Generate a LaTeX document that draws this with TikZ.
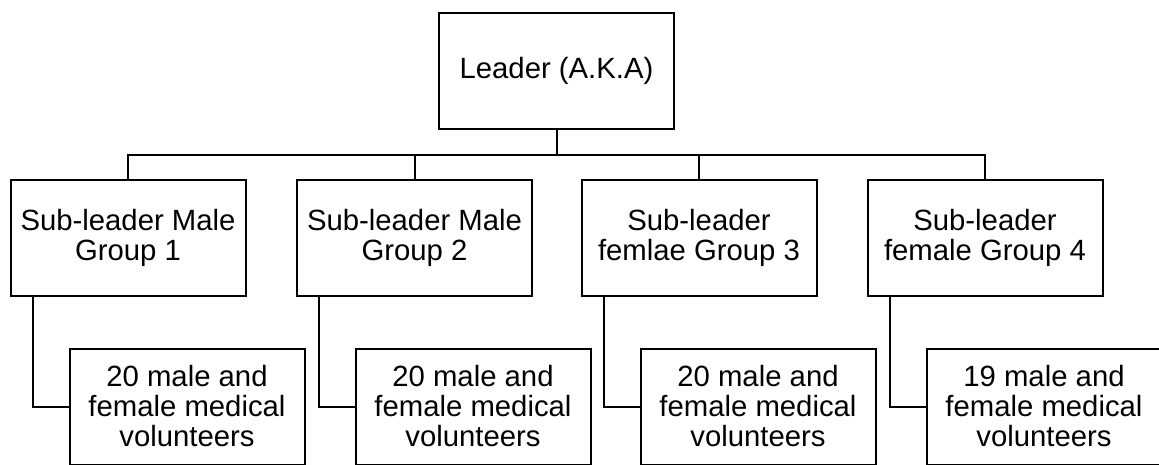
\documentclass[tikz,border=0pt]{standalone}
\usepackage{fontspec}
\setmainfont{Liberation Sans}
\begin{document}
\begin{tikzpicture}[x=1pt,y=-1pt,
  box/.style={draw,line width=2pt,minimum width=235pt,minimum height=116pt,
    inner sep=0pt,align=center,font=\fontsize{29.3}{30}\selectfont},
  link/.style={line width=2pt}]
\useasboundingbox (0,0) rectangle (1159,464);
% top of the hierarchy
\node[box] (L) at (556.5,71) {Leader (A.K.A)};
% sub-leaders
\node[box] (s1) at (128,238) {Sub-leader Male\\Group 1};
\node[box] (s2) at (414.5,238) {Sub-leader Male\\Group 2};
\node[box] (s3) at (699,238) {Sub-leader\\femlae Group 3};
\node[box] (s4) at (985,238) {Sub-leader\\female Group 4};
% volunteer groups
\node[box] (v1) at (187,406.5) {20 male and\\female medical\\volunteers};
\node[box] (v2) at (473,406.5) {20 male and\\female medical\\volunteers};
\node[box] (v3) at (758,406.5) {20 male and\\female medical\\volunteers};
\node[box] (v4) at (1044,406.5) {19 male and\\female medical\\volunteers};
% bus line below the leader
\coordinate (bus) at (556.5,155);
\draw[link] (L.south) -- (bus);
\draw[link] (s1.north) -- (s1.north |- bus) -- (s4.north |- bus) -- (s4.north);
\draw[link] (s2.north) -- (s2.north |- bus);
\draw[link] (s3.north) -- (s3.north |- bus);
% elbow links to the volunteer groups
\foreach \i in {1,2,3,4}{
  \draw[link] ([xshift=23pt]s\i.south west) |- (v\i.west);
}
\end{tikzpicture}
\end{document}
